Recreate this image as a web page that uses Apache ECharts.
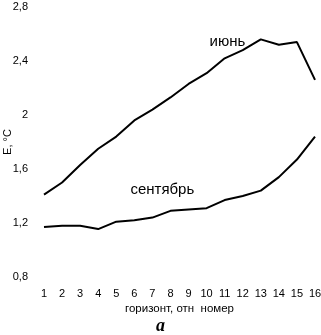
<!DOCTYPE html>
<html>
<head>
<meta charset="utf-8">
<script src="https://cdn.jsdelivr.net/npm/echarts@6/dist/echarts.min.js"></script>
<style>
  html, body { margin: 0; padding: 0; background: #fff; }
  #chart { width: 321px; height: 335px; }
</style>
</head>
<body>
<div id="chart"></div>
<script>
// горизонты 1..16
const horizons = [1, 2, 3, 4, 5, 6, 7, 8, 9, 10, 11, 12, 13, 14, 15, 16];
const june = [1.41, 1.50, 1.63, 1.75, 1.84, 1.96, 2.04, 2.13, 2.23, 2.31, 2.42, 2.48, 2.56, 2.52, 2.54, 2.26];
const september = [1.17, 1.18, 1.18, 1.155, 1.21, 1.22, 1.24, 1.29, 1.30, 1.31, 1.37, 1.40, 1.44, 1.54, 1.67, 1.84];
const juneLabelAt = [11.15, 2.54];
const septLabelAt = [7.55, 1.445];

const font = 'Liberation Sans, Arial, sans-serif';

const pairs = (vals) => horizons.map((h, i) => [h, vals[i]]);

const seriesLine = (name, vals, at) => ({
    name: name,
    type: 'line',
    data: pairs(vals),
    symbol: 'none',
    lineStyle: { color: '#000', width: 2 },
    animation: false,
    markPoint: {
        symbol: 'circle',
        symbolSize: 1,
        itemStyle: { color: 'rgba(0,0,0,0)' },
        data: [{ coord: at, value: name }],
        label: { show: true, position: 'inside', formatter: name, color: '#000', fontSize: 15, fontFamily: font }
    }
});

const myChart = echarts.init(document.getElementById('chart'));
myChart.setOption({
    backgroundColor: '#fff',
    animation: false,
    title: {
        text: 'a',
        left: 'center',
        top: 317,
        padding: 0,
        textStyle: { fontFamily: 'Liberation Serif, serif', fontStyle: 'italic', fontWeight: 'bold', fontSize: 18, color: '#000' }
    },
    grid: { left: 44, right: 6, top: 7, bottom: 58, outerBoundsMode: 'none', containLabel: false },
    xAxis: {
        type: 'value',
        min: 1,
        max: 16,
        interval: 1,
        name: 'горизонт, отн  номер',
        nameLocation: 'middle',
        nameGap: 26,
        nameMoveOverlap: false,
        nameTextStyle: { fontFamily: font, fontSize: 11.5, color: '#000' },
        axisLine: { show: false },
        axisTick: { show: false },
        splitLine: { show: false },
        axisLabel: { fontFamily: font, fontSize: 11, color: '#000', margin: 11 }
    },
    yAxis: {
        type: 'value',
        min: 0.8,
        max: 2.8,
        interval: 0.4,
        name: 'E, °C',
        nameLocation: 'middle',
        nameGap: 31,
        nameMoveOverlap: false,
        nameRotate: 90,
        nameTextStyle: { fontFamily: font, fontSize: 11, color: '#000' },
        axisLine: { show: false },
        axisTick: { show: false },
        splitLine: { show: false },
        axisLabel: {
            fontFamily: font, fontSize: 11, color: '#000', margin: 16,
            formatter: (v) => String(Math.round(v * 10) / 10).replace('.', ',')
        }
    },
    series: [
        seriesLine('июнь', june, juneLabelAt),
        seriesLine('сентябрь', september, septLabelAt)
    ]
});
</script>
</body>
</html>
